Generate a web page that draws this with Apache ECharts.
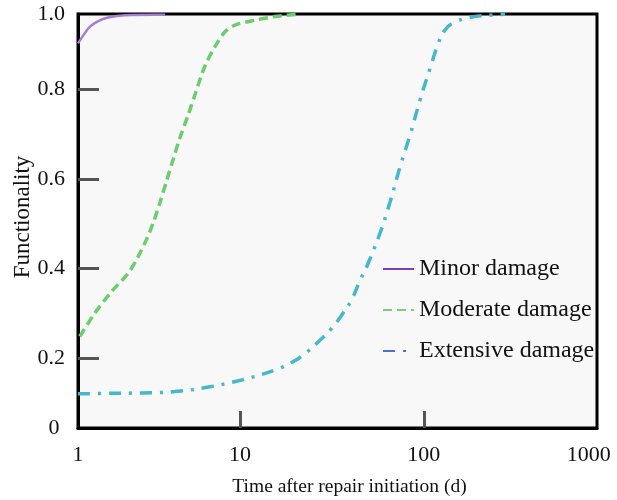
<!DOCTYPE html>
<html>
<head>
<meta charset="utf-8">
<script src="https://cdn.jsdelivr.net/npm/echarts@6/dist/echarts.min.js"></script>
<style>html,body{margin:0;padding:0;background:#fff;}#c{width:617px;height:500px;}</style>
</head>
<body>
<div id="c"></div>
<script>
// Axis extents (end labels of the original figure sit at these extents)
const xMin = 1.312, xMax = 877;
const yMin = 0.0436, yMax = 0.9687;
const xTickValues = [xMin, 10, 100, xMax];
const xTickLabels = ['1', '10', '100', '1000'];
const yTickValues = [yMin, 0.2, 0.4, 0.6, 0.8, yMax];
const yTickLabels = ['0', '0.2', '0.4', '0.6', '0.8', '1.0'];

const seriesNames = ['Minor damage', 'Moderate damage', 'Extensive damage'];

const minorX = [1.312, 1.43, 1.52, 1.69, 1.91, 2.36, 3.44, 3.91];
const minorY = [0.903, 0.926, 0.940, 0.953, 0.961, 0.966, 0.967, 0.967];

const moderateX = [1.341, 1.618, 1.993, 2.457, 2.784, 3.090, 3.360, 3.655, 3.970, 4.318, 4.697, 5.21, 5.67, 6.45, 7.31, 8.28, 9.39, 12.1, 15.5, 20.7];
const moderateY = [0.248, 0.300, 0.348, 0.389, 0.426, 0.464, 0.501, 0.546, 0.594, 0.643, 0.691, 0.742, 0.787, 0.853, 0.896, 0.929, 0.944, 0.955, 0.963, 0.968];

const extensiveX = [1.312, 1.91, 2.92, 4.43, 6.72, 10.2, 15.5, 19.5, 23.1, 27.3, 31.5, 35.8, 40.6, 45.0, 48.9, 57.8, 65.6, 74.3, 84.2, 95.5, 108.2, 120, 130.5, 144.9, 178.6, 229.5, 277];
const extensiveY = [0.120, 0.121, 0.122, 0.125, 0.135, 0.151, 0.173, 0.192, 0.213, 0.240, 0.266, 0.296, 0.331, 0.374, 0.404, 0.479, 0.549, 0.627, 0.698, 0.777, 0.847, 0.903, 0.933, 0.949, 0.961, 0.966, 0.968];

function pairs(xs, ys) { return xs.map((x, i) => [x, ys[i]]); }

const FONT = 'Liberation Serif';
const NB = '\u00a0';
const chart = echarts.init(document.getElementById('c'));
chart.setOption({
  animation: false,
  backgroundColor: '#ffffff',
  grid: {
    left: 78, right: 20, top: 14, bottom: 72,
    containLabel: false, outerBoundsMode: 'none',
    show: true, backgroundColor: '#f8f8f8', borderColor: '#000', borderWidth: 3
  },
  legend: {
    orient: 'vertical', left: 382, top: 257, padding: 0,
    itemWidth: 31, itemHeight: 14, itemGap: 17,
    itemStyle: { opacity: 0 },
    textStyle: { fontFamily: FONT, fontSize: 24, color: '#111' },
    data: [
      { name: seriesNames[0], lineStyle: { color: '#7b3fbd' }, itemStyle: { opacity: 0 } },
      { name: seriesNames[1], lineStyle: { color: '#78cf78' }, itemStyle: { opacity: 0 } },
      { name: seriesNames[2], lineStyle: { color: '#4475cc' }, itemStyle: { opacity: 0 } }
    ]
  },
  xAxis: {
    type: 'log', logBase: 10, min: xMin, max: xMax,
    name: 'Time after repair initiation (d)', nameLocation: 'middle', nameGap: 49,
    nameMoveOverlap: false,
    nameTextStyle: { fontFamily: FONT, fontSize: 19.5, color: '#111', padding: [0, 0, 0, 24] },
    axisLine: { show: true, lineStyle: { color: '#000', width: 3 } },
    axisTick: { show: true, inside: true, length: 17, customValues: [10, 100], lineStyle: { color: '#555', width: 3 } },
    axisLabel: {
      customValues: xTickValues, margin: 16,
      fontFamily: FONT, fontSize: 22, color: '#111',
      formatter: function (v) {
        let best = 0, bd = Infinity;
        xTickValues.forEach((t, i) => { const d = Math.abs(Math.log10(t) - Math.log10(v)); if (d < bd) { bd = d; best = i; } });
        return best === xTickValues.length - 1 ? xTickLabels[best] + NB + NB + NB : xTickLabels[best];
      }
    },
    splitLine: { show: false }
  },
  yAxis: {
    type: 'value', min: yMin, max: yMax,
    name: 'Functionality', nameLocation: 'middle', nameGap: 44,
    nameMoveOverlap: false,
    nameTextStyle: { fontFamily: FONT, fontSize: 23, color: '#111', padding: [0, 0, 0, 8] },
    axisLine: { show: true, lineStyle: { color: '#000', width: 3 } },
    axisTick: { show: true, inside: true, length: 21, customValues: [0.2, 0.4, 0.6, 0.8], lineStyle: { color: '#555', width: 3 } },
    axisLabel: {
      customValues: yTickValues, margin: 13,
      fontFamily: FONT, fontSize: 22, color: '#111',
      formatter: function (v) {
        let best = 0, bd = Infinity;
        yTickValues.forEach((t, i) => { const d = Math.abs(t - v); if (d < bd) { bd = d; best = i; } });
        return best === 0 ? yTickLabels[best] + NB : yTickLabels[best];
      }
    },
    splitLine: { show: false }
  },
  series: [
    { name: seriesNames[0], type: 'line', symbol: 'none', smooth: 0.4, data: pairs(minorX, minorY),
      lineStyle: { color: '#a57ed0', width: 2.5, type: 'solid' }, itemStyle: { color: '#a57ed0' } },
    { name: seriesNames[1], type: 'line', symbol: 'none', smooth: 0.3, data: pairs(moderateX, moderateY),
      lineStyle: { color: '#6ccd6c', width: 3.5, type: [9, 5] }, itemStyle: { color: '#6ccd6c' } },
    { name: seriesNames[2], type: 'line', symbol: 'none', smooth: 0.4, data: pairs(extensiveX, extensiveY),
      lineStyle: { color: '#45b8cc', width: 3.5, type: [12, 8, 3, 8] }, itemStyle: { color: '#45b8cc' } }
  ]
});
</script>
</body>
</html>
